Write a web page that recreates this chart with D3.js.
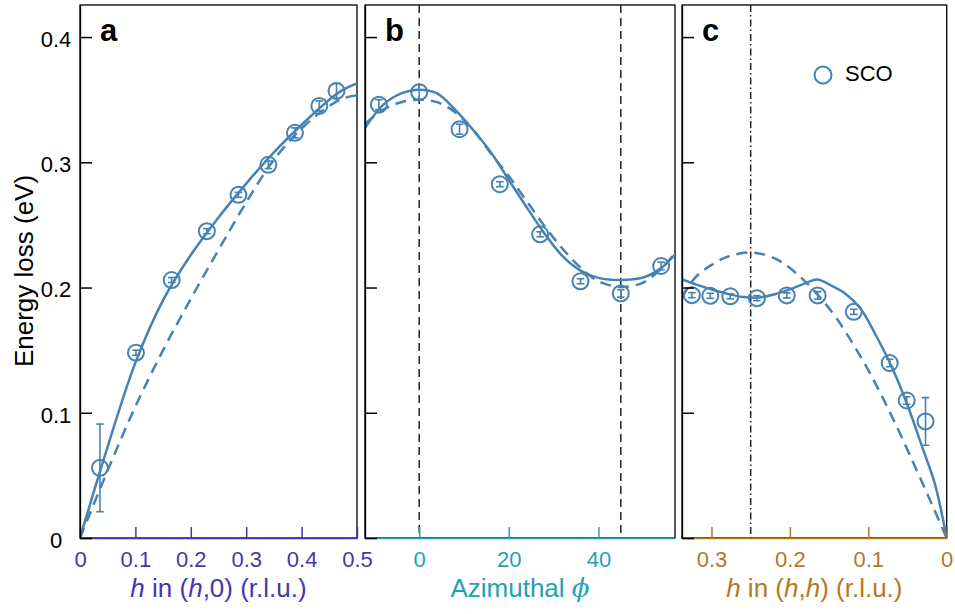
<!DOCTYPE html>
<html>
<head>
<meta charset="utf-8">
<script src="https://cdn.jsdelivr.net/npm/d3@7"></script>
<style>
  body { margin: 0; background: #fff; }
  svg { display: block; font-family: "Liberation Sans", Arial, Helvetica, sans-serif; }
</style>
</head>
<body>
<svg id="chart" width="955" height="614"></svg>
<script>
// panel a: (h,0) cut
const aH = [0.036, 0.101, 0.1655, 0.229, 0.286, 0.340, 0.388, 0.432, 0.463];
const aE = [0.056, 0.148, 0.206, 0.245, 0.274, 0.298, 0.3235, 0.345, 0.357];
const aErr = [0.035, 0.002, 0.002, 0.002, 0.002, 0.003, 0.004, 0.004, 0.006];
const aFitH = [0, 0.05, 0.1, 0.15, 0.2, 0.25, 0.3, 0.35, 0.4, 0.45, 0.475, 0.5];
const aFitSolid = [0, 0.073, 0.140, 0.190, 0.226, 0.256, 0.283, 0.308, 0.330, 0.350, 0.358, 0.363];
const aFitDash = [0, 0.054, 0.105, 0.150, 0.191, 0.230, 0.268, 0.302, 0.327, 0.345, 0.351, 0.3535];

// panel b: azimuthal cut
const bPhi = [-9, 0, 9, 18, 27, 36, 45, 54];
const bE = [0.346, 0.356, 0.3264, 0.2825, 0.2425, 0.205, 0.1953, 0.2172];
const bErr = [0.004, 0.006, 0.004, 0.002, 0.002, 0.002, 0.003, 0.003];
const bFitPhi = [-12, -8, -4, 0, 4, 8, 12, 16, 20, 24, 28, 32, 36, 40, 45, 50, 54, 57];
const bFitSolid = [0.328, 0.346, 0.355, 0.358, 0.355, 0.342, 0.326, 0.308, 0.286, 0.264, 0.243, 0.225, 0.2135, 0.2077, 0.206, 0.208, 0.2155, 0.226];
const bFitDash = [0.331, 0.342, 0.348, 0.350, 0.348, 0.340, 0.326, 0.307, 0.289, 0.269, 0.249, 0.231, 0.216, 0.205, 0.2005, 0.204, 0.215, 0.227];

// panel c: (h,h) cut
const cH = [0.325, 0.3015, 0.276, 0.242, 0.204, 0.1646, 0.1185, 0.0727, 0.051, 0.027];
const cE = [0.1939, 0.1934, 0.193, 0.1915, 0.1937, 0.1937, 0.1806, 0.1397, 0.1098, 0.0931];
const cErr = [0.002, 0.002, 0.002, 0.002, 0.002, 0.003, 0.002, 0.003, 0.003, 0.019];
const cFitHSolid = [0.3376, 0.32, 0.30, 0.28, 0.26, 0.24, 0.22, 0.20, 0.18, 0.165, 0.15, 0.13, 0.11, 0.09, 0.07, 0.05, 0.03, 0.015, 0];
const cFitSolid = [0.2065, 0.2025, 0.1985, 0.195, 0.1925, 0.192, 0.1945, 0.1985, 0.2035, 0.2065, 0.2025, 0.1955, 0.1833, 0.1615, 0.1365, 0.106, 0.0705, 0.043, 0];
const cFitHDash = [0.3376, 0.32, 0.30, 0.28, 0.25, 0.22, 0.20, 0.18, 0.16, 0.14, 0.12, 0.10, 0.08, 0.06, 0.04, 0.02, 0];
const cFitDash = [0.192, 0.2085, 0.218, 0.2245, 0.228, 0.2235, 0.2155, 0.2045, 0.191, 0.175, 0.1555, 0.134, 0.110, 0.084, 0.0565, 0.0285, 0];

// ticks
const yTicks = [0, 0.1, 0.2, 0.3, 0.4];
const yTickLabels = ["0", "0.1", "0.2", "0.3", "0.4"];
const aTicks = [0, 0.1, 0.2, 0.3, 0.4, 0.5];
const aTickLabels = ["0", "0.1", "0.2", "0.3", "0.4", "0.5"];
const bTicks = [0, 20, 40];
const bTickLabels = ["0", "20", "40"];
const cTicks = [0.3, 0.2, 0.1, 0];
const cTickLabels = ["0.3", "0.2", "0.1", "0"];

const blue = "#4682b4";
const yTop = 5, yBottom = 538;

const svg = d3.select("#chart");

const y = d3.scaleLinear().domain([0, 0.4256]).range([yBottom, yTop]);

const panels = [
    {
        id: "a", x: d3.scaleLinear().domain([0, 0.5]).range([80, 357]),
        color: "#4536b0", ticks: aTicks, labels: aTickLabels, yLabels: true,
        title: [["h", true], [" in (", false], ["h", true], [",0) (r.l.u.)", false]],
        px: aH, py: aE, err: aErr,
        solid: aFitH.map((h, i) => [h, aFitSolid[i]]),
        dash: aFitH.map((h, i) => [h, aFitDash[i]])
    },
    {
        id: "b", x: d3.scaleLinear().domain([-12.1, 57.1]).range([365, 675]),
        color: "#1fa2b3", ticks: bTicks, labels: bTickLabels, yLabels: false,
        title: [["Azimuthal ", false], ["\u03d5", true]],
        px: bPhi, py: bE, err: bErr,
        solid: bFitPhi.map((p, i) => [p, bFitSolid[i]]),
        dash: bFitPhi.map((p, i) => [p, bFitDash[i]]),
        vlines: [0, 45], vdash: "8,5"
    },
    {
        id: "c", x: d3.scaleLinear().domain([0.3376, 0]).range([682, 946.7]),
        color: "#b5781f", ticks: cTicks, labels: cTickLabels, yLabels: false,
        title: [["h", true], [" in (", false], ["h", true], [",", false], ["h", true], [") (r.l.u.)", false]],
        px: cH, py: cE, err: cErr,
        solid: cFitHSolid.map((h, i) => [h, cFitSolid[i]]),
        dash: cFitHDash.map((h, i) => [h, cFitDash[i]]),
        vlines: [0.25], vdash: "7,3,1.5,3"
    }
];

panels.forEach(p => {
    const [x0, x1] = p.x.range();
    const g = svg.append("g");

    g.append("clipPath").attr("id", `clip-${p.id}`)
        .append("rect").attr("x", x0).attr("y", yTop).attr("width", x1 - x0).attr("height", yBottom - yTop);

    // frame
    g.append("rect")
        .attr("x", x0).attr("y", yTop)
        .attr("width", x1 - x0).attr("height", yBottom - yTop)
        .attr("fill", "none").attr("stroke", "#000").attr("stroke-width", 1.3);

    const plot = g.append("g").attr("clip-path", `url(#clip-${p.id})`);

    (p.vlines || []).forEach(v => {
        plot.append("line")
            .attr("x1", p.x(v)).attr("x2", p.x(v))
            .attr("y1", yTop).attr("y2", yBottom)
            .attr("stroke", "#222").attr("stroke-width", 1.5)
            .attr("stroke-dasharray", p.vdash);
    });

    const line = d3.line()
        .x(d => p.x(d[0]))
        .y(d => y(d[1]))
        .curve(d3.curveCatmullRom.alpha(0.5));

    plot.append("path").datum(p.dash)
        .attr("fill", "none").attr("stroke", blue).attr("stroke-width", 2.5)
        .attr("stroke-dasharray", "11,7").attr("d", line);

    plot.append("path").datum(p.solid)
        .attr("fill", "none").attr("stroke", blue).attr("stroke-width", 2.5)
        .attr("d", line);

    // data points with error bars
    const pts = p.px.map((v, i) => ({ x: v, y: p.py[i], e: p.err[i] }));
    const pg = plot.selectAll(".pt").data(pts).enter().append("g");
    pg.append("line")
        .attr("x1", d => p.x(d.x)).attr("x2", d => p.x(d.x))
        .attr("y1", d => y(d.y - d.e)).attr("y2", d => y(d.y + d.e))
        .attr("stroke", blue).attr("stroke-width", 1.6);
    [-1, 1].forEach(s => {
        pg.append("line")
            .attr("x1", d => p.x(d.x) - 3.8).attr("x2", d => p.x(d.x) + 3.8)
            .attr("y1", d => y(d.y + s * d.e)).attr("y2", d => y(d.y + s * d.e))
            .attr("stroke", blue).attr("stroke-width", 1.6);
    });
    pg.append("circle")
        .attr("cx", d => p.x(d.x)).attr("cy", d => y(d.y))
        .attr("r", 8).attr("fill", "none")
        .attr("stroke", blue).attr("stroke-width", 2);

    // bottom axis (coloured, inward ticks)
    const xAxis = d3.axisBottom(p.x)
        .tickValues(p.ticks)
        .tickFormat((d, i) => p.labels[i])
        .tickSizeInner(-11).tickSizeOuter(0).tickPadding(13);
    const xg = g.append("g").attr("transform", `translate(0,${yBottom})`).call(xAxis);
    xg.select(".domain").attr("stroke", p.color).attr("stroke-width", 1.5);
    xg.selectAll(".tick line").attr("stroke", p.color).attr("stroke-width", 1.5);
    xg.selectAll(".tick text").attr("fill", p.color)
        .style("font-size", "22px").style("font-family", "'Liberation Sans', Arial, sans-serif");

    // left axis (black, inward ticks)
    const yAxis = d3.axisLeft(y)
        .tickValues(yTicks)
        .tickFormat((d, i) => p.yLabels ? yTickLabels[i] : "")
        .tickSizeInner(-12).tickSizeOuter(0).tickPadding(7);
    const yg = g.append("g").attr("transform", `translate(${x0},0)`).call(yAxis);
    yg.select(".domain").attr("stroke", "#000").attr("stroke-width", 1.3);
    yg.selectAll(".tick line").attr("stroke", "#000").attr("stroke-width", 1.5);
    yg.selectAll(".tick text").attr("fill", "#000").attr("dy", "0.42em")
        .attr("x", -24).attr("text-anchor", "middle")
        .style("font-size", "22px").style("font-family", "'Liberation Sans', Arial, sans-serif");

    // panel letter
    g.append("text")
        .attr("x", x0 + 20).attr("y", 41)
        .attr("font-size", 31).attr("font-weight", "bold")
        .text(p.id);

    // x title
    const t = g.append("text")
        .attr("x", (x0 + x1) / 2).attr("y", 597)
        .attr("text-anchor", "middle")
        .attr("font-size", 26).attr("fill", p.color);
    p.title.forEach(([s, it]) => {
        const span = t.append("tspan").text(s);
        if (it) span.attr("font-style", "italic");
        if (s === "\u03d5") span.attr("font-family", "'DejaVu Serif', serif");
    });
});

// y title
svg.append("text")
    .attr("transform", "translate(33,271) rotate(-90)")
    .attr("text-anchor", "middle")
    .attr("font-size", 26)
    .text("Energy loss (eV)");

// legend
svg.append("circle")
    .attr("cx", 823).attr("cy", 75).attr("r", 8.5)
    .attr("fill", "none").attr("stroke", blue).attr("stroke-width", 2);
svg.append("text")
    .attr("x", 845).attr("y", 81)
    .attr("font-size", 22)
    .text("SCO");
</script>
</body>
</html>
